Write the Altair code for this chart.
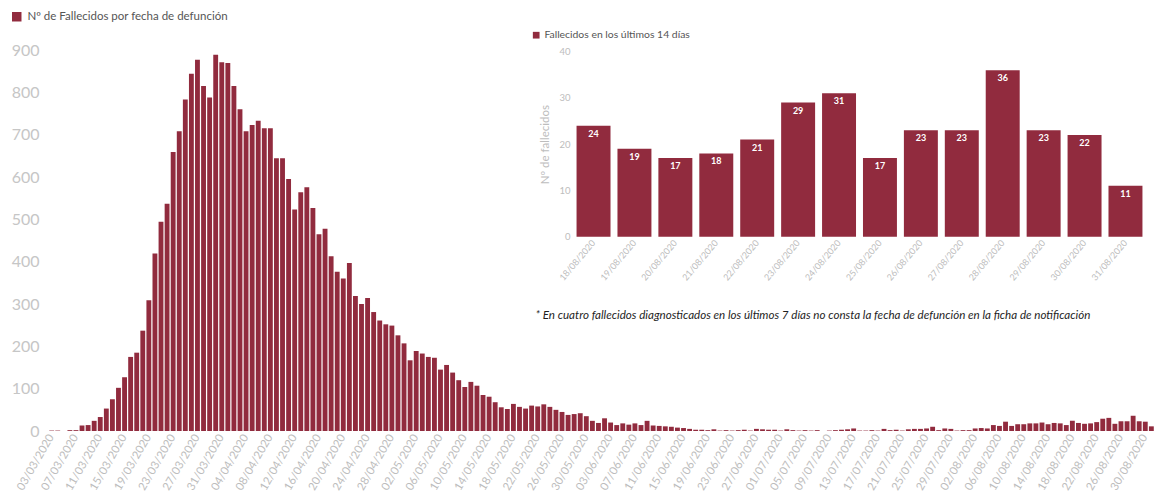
import altair as alt
import pandas as pd

# ---- data ----
fechas = pd.date_range("2020-03-03", "2020-08-31", freq="D").strftime("%d/%m/%Y").tolist()

fallecidos = [
    1, 1, 0, 2, 2,
    13, 14, 24, 33, 53,
    75, 102, 127, 175, 185,
    237, 309, 419, 494, 537,
    659, 708, 783, 844, 877,
    815, 788, 889, 871, 869,
    815, 760, 708, 723, 733,
    715, 715, 644, 644, 595,
    523, 564, 576, 527, 465,
    478, 413, 376, 360, 397,
    319, 300, 314, 281, 261,
    252, 249, 226, 207, 167,
    189, 183, 175, 173, 145,
    156, 138, 120, 104, 116,
    107, 85, 81, 68, 56,
    52, 64, 57, 53, 60,
    58, 63, 57, 50, 45,
    38, 40, 42, 35, 24,
    19, 30, 20, 14, 18,
    15, 18, 14, 24, 13,
    12, 11, 10, 8, 7,
    5, 3, 3, 2, 4,
    1, 2, 1, 2, 3,
    1, 5, 4, 3, 3,
    1, 4, 2, 1, 2,
    1, 2, 0, 1, 2,
    3, 4, 6, 1, 1,
    2, 1, 5, 2, 3,
    1, 4, 5, 5, 6,
    10, 2, 6, 5, 1,
    2, 2, 6, 7, 6,
    14, 12, 22, 12, 16,
    16, 18, 18, 20, 16,
    19, 18, 14,
    24, 19, 17, 18, 21, 29, 31, 17, 23, 23, 36, 23, 22, 11,
]

etiquetas_x = fechas[::4]
marcas_y = [0, 100, 200, 300, 400, 500, 600, 700, 800, 900]

fechas_14 = ["18/08/2020", "19/08/2020", "20/08/2020", "21/08/2020", "22/08/2020",
             "23/08/2020", "24/08/2020", "25/08/2020", "26/08/2020", "27/08/2020",
             "28/08/2020", "29/08/2020", "30/08/2020", "31/08/2020"]
fallecidos_14 = [24, 19, 17, 18, 21, 29, 31, 17, 23, 23, 36, 23, 22, 11]
marcas_y14 = [0, 10, 20, 30, 40]

SERIE = "Nº de Fallecidos por fecha de defunción"
SERIE14 = "Fallecidos en los últimos 14 días"
NOTA = ("* En cuatro fallecidos diagnosticados en los últimos 7 días no consta "
        "la fecha de defunción en la ficha de notificación")

COLOR = "#912b3e"
GRIS = "#bdbdbd"
FONT = "Lato"

df = pd.DataFrame({"fecha": fechas, "valor": fallecidos, "serie": SERIE})
df14 = pd.DataFrame({"fecha14": fechas_14, "valor14": fallecidos_14, "serie14": SERIE14})

# ---- main chart ----
main = alt.Chart(df).mark_bar().encode(
    x=alt.X("fecha:N", sort=None,
            scale=alt.Scale(paddingInner=0.2, paddingOuter=0.2),
            axis=alt.Axis(values=etiquetas_x, title=None, orient="bottom",
                          labelAngle=-60, labelAlign="right", labelBaseline="middle",
                          labelFontSize=11.3, labelColor=GRIS, labelFont=FONT,
                          ticks=False, domain=False, labelPadding=4,
                          labelOverlap=False, labelBound=False)),
    y=alt.Y("valor:Q", scale=alt.Scale(domain=[0, 900], nice=False),
            axis=alt.Axis(values=marcas_y, title=None, orient="left", grid=False,
                          domain=False, ticks=False, labelFontSize=16,
                          labelColor="#c6c6c6", labelFont=FONT, labelPadding=9)),
    color=alt.Color("serie:N", scale=alt.Scale(range=[COLOR]),
                    legend=alt.Legend(orient="none", legendX=-37, legendY=-39, title=None,
                                      symbolType="square", symbolSize=90,
                                      symbolStrokeWidth=0, labelFont=FONT,
                                      labelFontSize=11.5, labelColor="#555555",
                                      labelOffset=5, padding=0, labelLimit=400)),
)

# ---- inset chart ----
sc14x = alt.Scale(range=[522, 1101], paddingInner=0.17, paddingOuter=0.16)
sc14y = alt.Scale(domain=[0, 40], nice=False, range=[186.7, 1.7])

ax14_x = alt.Axis(title=NOTA, orient="bottom", offset=-194.3, labelAngle=-50,
                  labelAlign="right", labelBaseline="middle", labelFontSize=9,
                  labelColor=GRIS, labelFont=FONT, ticks=False, domain=False,
                  labelPadding=4, labelOverlap=False,
                  titleX=487, titleY=82, titleAlign="left", titleBaseline="alphabetic",
                  titleFont=FONT, titleFontSize=11.6, titleFontStyle="italic",
                  titleFontWeight="normal", titleColor="#1e1e1e")
ax14_y = alt.Axis(values=marcas_y14, title="Nº de fallecidos", orient="left",
                  offset=-526, grid=False, domain=False, ticks=False,
                  labelFontSize=9.5, labelColor=GRIS, labelFont=FONT, labelPadding=4,
                  titleFont=FONT, titleFontSize=11.5, titleColor=GRIS,
                  titleFontWeight="normal", titlePadding=8)

bars14 = alt.Chart(df14).mark_bar().encode(
    x=alt.X("fecha14:N", sort=None, scale=sc14x, axis=ax14_x),
    y=alt.Y("valor14:Q", scale=sc14y, axis=ax14_y),
    color=alt.Color("serie14:N", scale=alt.Scale(range=[COLOR]),
                    legend=alt.Legend(orient="none", legendX=483, legendY=-20, title=None,
                                      symbolType="square", symbolSize=45,
                                      symbolStrokeWidth=0, labelFont=FONT,
                                      labelFontSize=10.4, labelColor="#555555",
                                      labelOffset=3, padding=0, labelLimit=400)),
)

txt14 = alt.Chart(df14).mark_text(color="white", fontSize=9, fontWeight="bold",
                                  baseline="top", dy=4, font=FONT).encode(
    x=alt.X("fecha14:N", sort=None, scale=sc14x, axis=ax14_x),
    y=alt.Y("valor14:Q", scale=sc14y, axis=ax14_y),
    text="valor14:Q",
)

inset = alt.layer(bars14, txt14)

chart = alt.layer(main, inset).resolve_scale(
    x="independent", y="independent", color="independent"
).properties(
    width=1107, height=381,
    padding={"left": 40, "top": 42, "right": 0, "bottom": 64},
    autosize=alt.AutoSizeParams(type="none"),
).configure_view(stroke=None)

chart.save("out.html", embed_options={"renderer": "svg", "actions": False})
